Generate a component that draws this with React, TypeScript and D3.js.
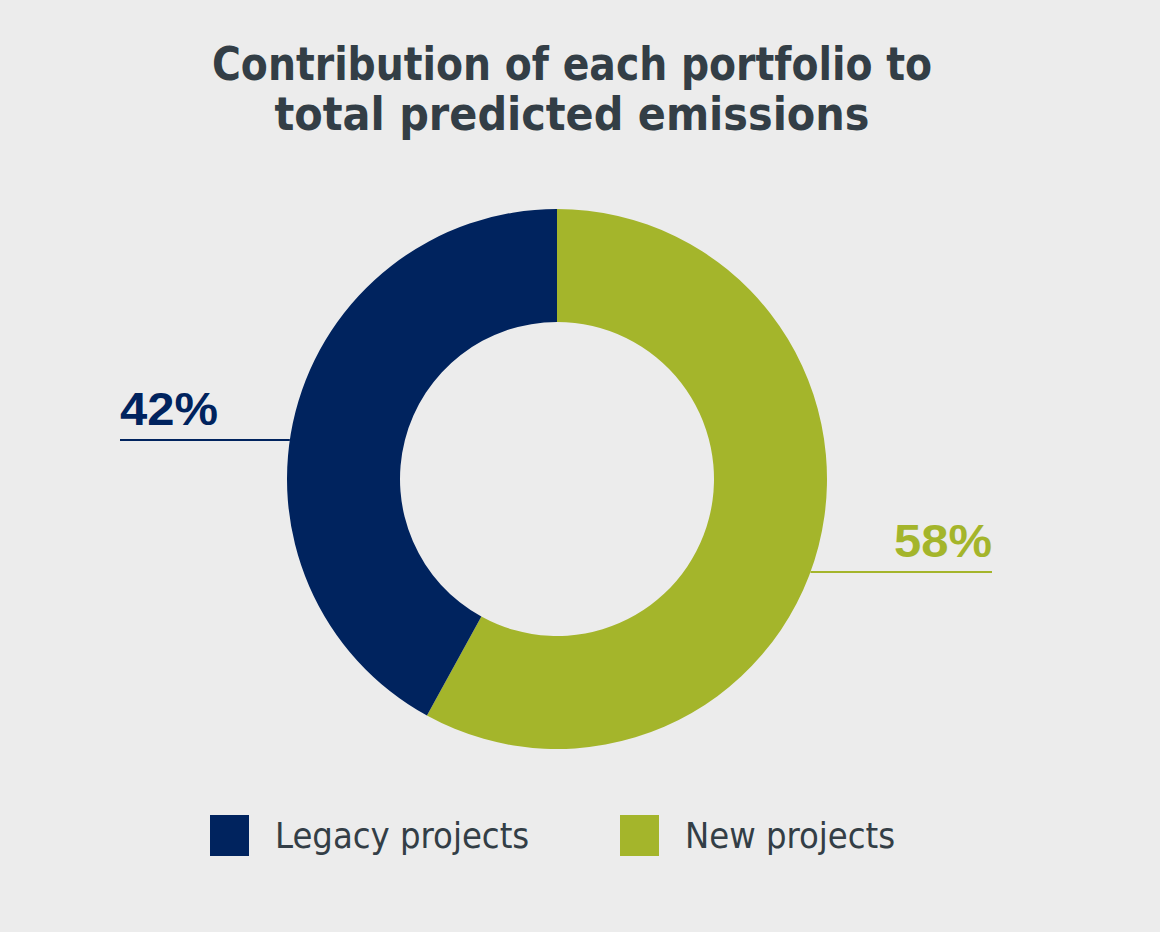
import * as d3 from "d3";
import { useEffect, useRef } from "react";

const width = 1160;
const height = 932;

const portfolios = ["New projects", "Legacy projects"];
const shares = [58, 42];
const colors = ["#a4b52b", "#00235e"];
const legendOrder = ["Legacy projects", "New projects"];
const titleLines = ["Contribution of each portfolio to", "total predicted emissions"];
const titleWidths = [720, 595];

const cx = 557;
const cy = 479;
const outerR = 270;
const innerR = 157;

export default function App() {
  const svgRef = useRef<SVGSVGElement | null>(null);

  useEffect(() => {
    if (!svgRef.current) return;
    const svg = d3.select(svgRef.current);
    svg.selectAll("*").remove();

    svg.append("rect").attr("width", width).attr("height", height).attr("fill", "#ececec");

    const color = d3.scaleOrdinal<string, string>().domain(portfolios).range(colors);

    // condensed title, squeezed to its set width
    svg
      .append("g")
      .selectAll("text")
      .data(titleLines)
      .join("text")
      .attr("x", 572)
      .attr("y", (_d, i) => 80 + i * 50)
      .attr("text-anchor", "middle")
      .attr("textLength", (_d, i) => titleWidths[i])
      .attr("lengthAdjust", "spacingAndGlyphs")
      .attr("font-family", "'DejaVu Sans Condensed', sans-serif")
      .attr("font-weight", "bold")
      .attr("font-size", 47)
      .attr("fill", "#333e46")
      .text((d) => d);

    const data = portfolios.map((name, i) => ({ name, value: shares[i] }));
    const pie = d3
      .pie<{ name: string; value: number }>()
      .sort(null)
      .value((d) => d.value);
    const arc = d3
      .arc<d3.PieArcDatum<{ name: string; value: number }>>()
      .innerRadius(innerR)
      .outerRadius(outerR);

    svg
      .append("g")
      .attr("transform", `translate(${cx},${cy})`)
      .selectAll("path")
      .data(pie(data))
      .join("path")
      .attr("d", arc)
      .attr("fill", (d) => color(d.data.name));

    // leader lines and value labels
    const labels = [
      { name: "Legacy projects", lineY: 440, side: -1, end: 120 },
      { name: "New projects", lineY: 572, side: 1, end: 992 },
    ];
    labels.forEach((l) => {
      const dy = l.lineY - cy;
      const edgeX = cx + l.side * Math.sqrt(outerR * outerR - dy * dy);
      const value = shares[portfolios.indexOf(l.name)];
      svg
        .append("line")
        .attr("x1", l.end)
        .attr("x2", edgeX)
        .attr("y1", l.lineY)
        .attr("y2", l.lineY)
        .attr("stroke", color(l.name))
        .attr("stroke-width", 2);
      svg
        .append("text")
        .attr("x", l.end)
        .attr("y", l.lineY - 15)
        .attr("text-anchor", l.side < 0 ? "start" : "end")
        .attr("textLength", 98)
        .attr("lengthAdjust", "spacingAndGlyphs")
        .attr("font-family", "'Liberation Sans', Arial, sans-serif")
        .attr("font-weight", "bold")
        .attr("font-size", 46)
        .attr("fill", color(l.name))
        .text(`${value}%`);
    });

    const legend = svg
      .append("g")
      .selectAll("g")
      .data(legendOrder)
      .join("g")
      .attr("transform", (_d, i) => `translate(${210 + i * 410},815)`);
    legend
      .append("rect")
      .attr("width", 39)
      .attr("height", 41)
      .attr("fill", (d) => color(d));
    legend
      .append("text")
      .attr("x", 65)
      .attr("y", 33)
      .attr("font-family", "'DejaVu Sans Condensed', sans-serif")
      .attr("font-size", 36)
      .attr("fill", "#333e46")
      .text((d) => d);
  }, []);

  return (
    <svg
      ref={svgRef}
      width={width}
      height={height}
      style={{ position: "fixed", top: 0, left: 0, display: "block" }}
    />
  );
}
